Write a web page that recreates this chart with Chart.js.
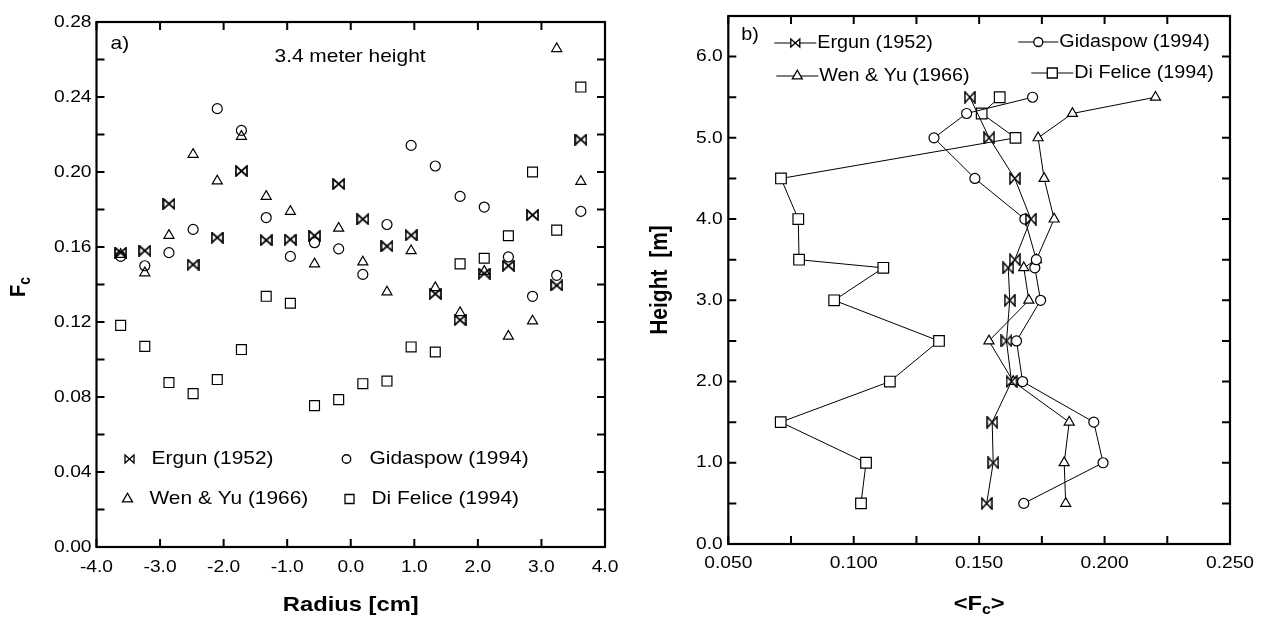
<!DOCTYPE html>
<html><head><meta charset="utf-8">
<script src="https://cdn.jsdelivr.net/npm/chart.js@4/dist/chart.umd.min.js"></script>
<style>
html,body{margin:0;padding:0;background:#fff;}
#wrap{position:relative;width:1265px;height:617px;overflow:hidden;}
#c1{position:absolute;left:0;top:0;}
#c2{position:absolute;left:630px;top:0;}
</style></head><body>
<div id="wrap"><canvas id="c1" width="630" height="617"></canvas><canvas id="c2" width="635" height="617"></canvas></div>
<script>
// ---------- Panel a) data ----------
const radiusCm = [-3.62,-3.24,-2.86,-2.48,-2.10,-1.72,-1.33,-0.95,-0.57,-0.19,0.19,0.57,0.95,1.33,1.72,2.10,2.48,2.86,3.24,3.62];
const ergunA = [0.157,0.158,0.183,0.1506,0.165,0.2005,0.1636,0.164,0.166,0.1936,0.1748,0.1604,0.1662,0.135,0.121,0.1458,0.150,0.177,0.1395,0.2173];
const gidaspowA = [0.155,0.150,0.157,0.1694,0.2338,0.2222,0.1757,0.155,0.1623,0.159,0.1454,0.172,0.2142,0.2032,0.187,0.1813,0.1547,0.1337,0.1449,0.179];
const wenYuA = [0.156,0.1462,0.1662,0.2094,0.1952,0.219,0.187,0.179,0.151,0.170,0.152,0.136,0.158,0.1383,0.125,0.147,0.1124,0.1205,0.2658,0.195];
const diFeliceA = [0.1182,0.107,0.0877,0.0818,0.0893,0.1053,0.1337,0.130,0.0754,0.0786,0.0871,0.0885,0.1067,0.104,0.151,0.154,0.166,0.200,0.169,0.2453];

// ---------- Panel b) data ----------
const heightErgun = [0.5,1.0,1.5,2.0,2.5,3.0,3.4,3.5,4.0,4.5,5.0,5.5];
const fcErgun = [0.153,0.1556,0.1552,0.1629,0.1609,0.1622,0.1616,0.1642,0.1706,0.1642,0.154,0.1463];
const heightGidaspow = [0.5,1.0,1.5,2.0,2.5,3.0,3.4,3.5,4.0,4.5,5.0,5.3,5.5];
const fcGidaspow = [0.1678,0.1994,0.1957,0.1673,0.1649,0.1745,0.1722,0.1728,0.1682,0.1483,0.132,0.145,0.1713];
const heightWenYu = [0.5,1.0,1.5,2.0,2.5,3.0,3.4,3.5,4.0,4.5,5.0,5.3,5.5];
const fcWenYu = [0.1845,0.1839,0.1859,0.1636,0.1539,0.1698,0.1678,0.1728,0.1799,0.1759,0.1735,0.1872,0.2203];
const heightDiFelice = [0.5,1.0,1.5,2.0,2.5,3.0,3.4,3.5,4.0,4.5,5.0,5.3,5.5];
const fcDiFelice = [0.1029,0.1049,0.0709,0.1144,0.134,0.0922,0.1118,0.0782,0.0779,0.071,0.1645,0.151,0.1582];

const seriesNames = ['Ergun (1952)','Gidaspow (1994)','Wen & Yu (1966)','Di Felice (1994)'];

// ---------- helpers ----------
const FONT = '"Liberation Sans", Arial, sans-serif';
const SX = 1.13;
function makeBowtie(w, h, fill, lw) {
  const c = document.createElement('canvas');
  c.width = w + 2; c.height = h + 2;
  const g = c.getContext('2d');
  g.lineWidth = lw; g.strokeStyle = '#000'; g.lineJoin = 'miter';
  g.beginPath();
  g.moveTo(1, 1); g.lineTo(w + 1, h + 1); g.lineTo(w + 1, 1); g.lineTo(1, h + 1); g.closePath();
  if (fill) { g.fillStyle = fill; g.fill(); }
  g.stroke();
  return c;
}
function txt(ctx, s, x, y, font, align, rot) {
  ctx.save(); ctx.font = font; ctx.fillStyle = '#000';
  ctx.textAlign = align || 'left'; ctx.textBaseline = 'middle';
  ctx.translate(x, y); ctx.scale(SX, 1); if (rot) ctx.rotate(rot);
  ctx.fillText(s, 0, 0); ctx.restore();
}
function composite(ctx, pieces, x, y, rot) {
  ctx.save();
  let total = 0;
  pieces.forEach(p => { ctx.font = p.font; p.w = ctx.measureText(p.t).width; total += p.w; });
  ctx.translate(x, y); ctx.scale(SX, 1); if (rot) ctx.rotate(rot);
  ctx.fillStyle = '#000'; ctx.textBaseline = 'middle'; ctx.textAlign = 'left';
  let cx = -total / 2;
  pieces.forEach(p => { ctx.font = p.font; ctx.fillText(p.t, cx, p.dy || 0); cx += p.w; });
  ctx.restore();
}
function drawMarker(ctx, type, x, y, s, fill) {
  ctx.save(); ctx.strokeStyle = '#000'; ctx.lineWidth = 1.3;
  ctx.beginPath();
  if (type === 'circle') ctx.arc(x, y, s / 2, 0, Math.PI * 2);
  else if (type === 'rect') ctx.rect(x - s / 2, y - s / 2, s, s);
  else if (type === 'triangle') { const r = s / Math.sqrt(3); ctx.moveTo(x, y - r); ctx.lineTo(x + s / 2, y + r / 2); ctx.lineTo(x - s / 2, y + r / 2); ctx.closePath(); }
  else if (type === 'bowtie') { const hw = s / 2, hh = s * 0.45; ctx.moveTo(x - hw, y - hh); ctx.lineTo(x + hw, y + hh); ctx.lineTo(x + hw, y - hh); ctx.lineTo(x - hw, y + hh); ctx.closePath(); }
  if (fill) { ctx.fillStyle = fill; ctx.fill(); }
  ctx.stroke(); ctx.restore();
}
function frame(chart, cfg) {
  const ctx = chart.ctx, a = chart.chartArea, xs = chart.scales.x, ys = chart.scales.y;
  ctx.save(); ctx.strokeStyle = '#000'; ctx.lineWidth = 2;
  ctx.beginPath();
  const nx = Math.round((xs.max - xs.min) / cfg.xMinor);
  for (let i = 0; i <= nx; i++) {
    const p = xs.getPixelForValue(xs.min + i * cfg.xMinor);
    ctx.moveTo(p, a.bottom); ctx.lineTo(p, a.bottom - cfg.tickLen);
    ctx.moveTo(p, a.top); ctx.lineTo(p, a.top + cfg.tickLen);
  }
  const ny = Math.round((ys.max - ys.min) / cfg.yMinor);
  for (let i = 0; i <= ny; i++) {
    const p = ys.getPixelForValue(ys.min + i * cfg.yMinor);
    ctx.moveTo(a.left, p); ctx.lineTo(a.left + cfg.tickLen, p);
    ctx.moveTo(a.right, p); ctx.lineTo(a.right - cfg.tickLen, p);
  }
  ctx.stroke();
  ctx.lineWidth = 2.2;
  ctx.strokeRect(a.left, a.top, a.right - a.left, a.bottom - a.top);
  ctx.restore();
  const tf = '17px ' + FONT;
  xs.ticks.forEach(t => txt(ctx, xs.options.ticks.callback(t.value), xs.getPixelForValue(t.value), a.bottom + cfg.xLabOff, tf, 'center'));
  ys.ticks.forEach(t => {
    ctx.save(); ctx.font = tf; const w = ctx.measureText(ys.options.ticks.callback(t.value)).width * SX; ctx.restore();
    txt(ctx, ys.options.ticks.callback(t.value), a.left - cfg.yLabOff - w, ys.getPixelForValue(t.value), tf, 'left');
  });
}
function baseScales(xmin, xmax, xstep, xfmt, ymin, ymax, ystep, yfmt, xh, yw) {
  return {
    x: { type: 'linear', min: xmin, max: xmax, grid: { display: false }, border: { display: false },
         ticks: { display: false, stepSize: xstep, includeBounds: false, callback: xfmt },
         afterFit: s => { s.height = xh; } },
    y: { type: 'linear', min: ymin, max: ymax, grid: { display: false }, border: { display: false },
         ticks: { display: false, stepSize: ystep, includeBounds: false, callback: yfmt },
         afterFit: s => { s.width = yw; } }
  };
}
const commonPlugins = { legend: { display: false }, tooltip: { enabled: false } };

// ---------- Chart a) ----------
const bowA = makeBowtie(11, 10, null, 1.7);
const pts = (xs, ys) => xs.map((x, i) => ({ x: x, y: ys[i] }));
new Chart(document.getElementById('c1'), {
  type: 'scatter',
  data: { datasets: [
    { data: pts(radiusCm, ergunA), pointStyle: bowA, pointRadius: 6 },
    { data: pts(radiusCm, gidaspowA), pointStyle: 'circle', pointRadius: 5, borderColor: '#000', backgroundColor: 'rgba(0,0,0,0)', borderWidth: 1.2 },
    { data: pts(radiusCm, wenYuA), pointStyle: 'triangle', pointRadius: 5.8, borderColor: '#000', backgroundColor: 'rgba(0,0,0,0)', borderWidth: 1.2 },
    { data: pts(radiusCm, diFeliceA), pointStyle: 'rect', pointRadius: 7, borderColor: '#000', backgroundColor: 'rgba(0,0,0,0)', borderWidth: 1.2 }
  ]},
  options: {
    responsive: false, animation: false, devicePixelRatio: 1,
    layout: { padding: { left: 0, right: 25, top: 22, bottom: 0 } },
    plugins: commonPlugins,
    scales: baseScales(-4, 4, 1, v => v.toFixed(1), 0, 0.28, 0.04, v => v.toFixed(2), 70, 96.5)
  },
  plugins: [{ id: 'decoA', afterDraw(chart) {
    const ctx = chart.ctx, a = chart.chartArea;
    frame(chart, { xMinor: 1, yMinor: 0.02, tickLen: 8, xLabOff: 20, yLabOff: 5 });
    const lf = '18.5px ' + FONT;
    txt(ctx, 'a)', a.left + 14, a.top + 22, lf, 'left');
    txt(ctx, '3.4 meter height', a.left + 178, a.top + 35, lf, 'left');
    drawMarker(ctx, 'bowtie', a.left + 33, a.bottom - 88, 9);
    txt(ctx, seriesNames[0], a.left + 55, a.bottom - 88, lf, 'left');
    drawMarker(ctx, 'circle', a.left + 250, a.bottom - 88, 8.5);
    txt(ctx, seriesNames[1], a.left + 273, a.bottom - 88, lf, 'left');
    drawMarker(ctx, 'triangle', a.left + 31, a.bottom - 48, 10);
    txt(ctx, seriesNames[2], a.left + 53, a.bottom - 48, lf, 'left');
    drawMarker(ctx, 'rect', a.left + 253, a.bottom - 48, 9);
    txt(ctx, seriesNames[3], a.left + 275, a.bottom - 48, lf, 'left');
    const bf = 'bold 21px ' + FONT;
    txt(ctx, 'Radius [cm]', (a.left + a.right) / 2, 605, bf, 'center');
    composite(ctx, [{ t: 'F', font: 'bold 20px ' + FONT }, { t: 'c', font: 'bold 14px ' + FONT, dy: 6 }], 19, 287, -Math.PI / 2);
  }}]
});

// ---------- Chart b) ----------
const bowB = makeBowtie(10, 11, '#fff', 1.5);
const lineDs = (xs, ys, style, r) => ({ data: pts(xs, ys), showLine: true, borderColor: '#000', borderWidth: 1,
  pointStyle: style, pointRadius: r, pointBorderColor: '#000', pointBackgroundColor: '#fff', pointBorderWidth: 1.2, tension: 0 });
new Chart(document.getElementById('c2'), {
  type: 'scatter',
  data: { datasets: [
    lineDs(fcErgun, heightErgun, bowB, 6),
    lineDs(fcGidaspow, heightGidaspow, 'circle', 5),
    lineDs(fcWenYu, heightWenYu, 'triangle', 5.8),
    lineDs(fcDiFelice, heightDiFelice, 'rect', 7.5)
  ]},
  options: {
    responsive: false, animation: false, devicePixelRatio: 1,
    layout: { padding: { left: 0, right: 35, top: 16, bottom: 0 } },
    plugins: commonPlugins,
    scales: baseScales(0.05, 0.25, 0.05, v => v.toFixed(3), 0, 6.5, 1, v => v.toFixed(1), 73, 98.3)
  },
  plugins: [{ id: 'decoB', afterDraw(chart) {
    const ctx = chart.ctx, a = chart.chartArea;
    frame(chart, { xMinor: 0.025, yMinor: 0.5, tickLen: 8, xLabOff: 19, yLabOff: 5.5 });
    const lf = '17.5px ' + FONT;
    txt(ctx, 'b)', a.left + 13, a.top + 19, lf, 'left');
    const leg = (x1, x2, y, type, s, name) => {
      ctx.save(); ctx.strokeStyle = '#000'; ctx.lineWidth = 1; ctx.beginPath(); ctx.moveTo(x1, y); ctx.lineTo(x2, y); ctx.stroke(); ctx.restore();
      drawMarker(ctx, type, (x1 + x2) / 2, y, s, '#fff');
      txt(ctx, name, x2 + 1, y, lf, 'left');
    };
    leg(a.left + 46, a.left + 88, a.top + 27, 'bowtie', 9, seriesNames[0]);
    leg(a.left + 48, a.left + 90, a.top + 60, 'triangle', 10, seriesNames[2]);
    leg(a.left + 290, a.left + 330, a.top + 26, 'circle', 9, seriesNames[1]);
    leg(a.left + 303, a.left + 345, a.top + 57, 'rect', 10, seriesNames[3]);
    const bf = 'bold 21px ' + FONT;
    txt(ctx, 'Height  [m]', 30, (a.top + a.bottom) / 2, bf, 'center', -Math.PI / 2);
    composite(ctx, [{ t: '<F', font: bf }, { t: 'c', font: 'bold 14px ' + FONT, dy: 6 }, { t: '>', font: bf }], (a.left + a.right) / 2, 604);
  }}]
});
</script>
</body></html>
